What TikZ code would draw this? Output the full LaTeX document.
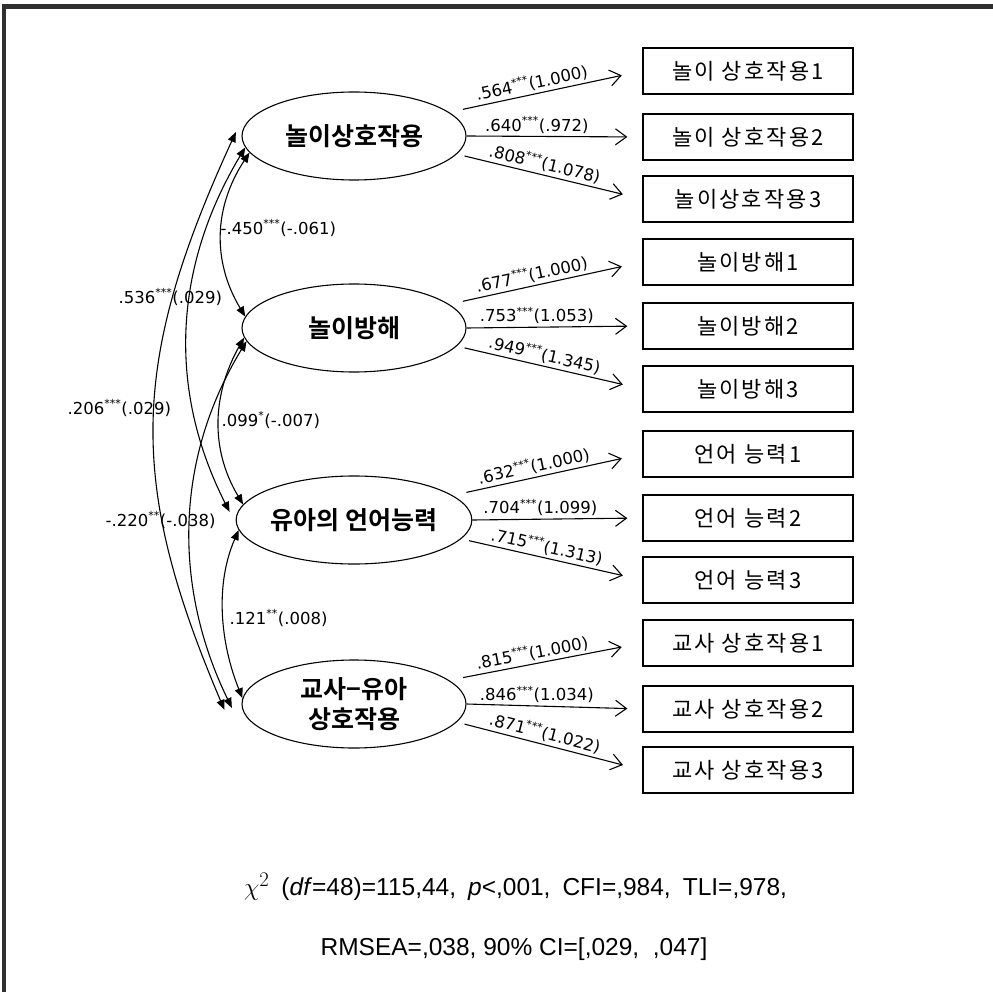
\documentclass[tikz,border=0pt]{standalone}
\usepackage{fontspec}
\setmainfont{Liberation Sans}
\newfontfamily\kr{Noto Sans CJK KR}
\newfontfamily\krb{Noto Sans CJK KR Bold}
\newfontfamily\dv{DejaVu Sans}
\usetikzlibrary{shapes.geometric,arrows.meta,calc}
\definecolor{frame}{HTML}{303030}
\newcommand{\sig}[1]{\textsuperscript{\fontsize{11}{11}\selectfont #1}}
\tikzset{
  lat/.style={ellipse, draw, line width=1.1pt, minimum width=224pt, minimum height=88pt,
    inner sep=0pt, align=center, font=\krb\fontsize{25}{30}\selectfont},
  obs/.style={rectangle, draw, line width=1.3pt, minimum width=210pt, minimum height=46pt,
    inner sep=0pt, font=\kr\fontsize{22}{26}\selectfont\addfontfeatures{LetterSpace=10}},
  load/.style={-{Straight Barb[length=11pt,width=16pt]}, line width=1.1pt},
  cov/.style={{Triangle[length=10pt,width=8pt]}-{Triangle[length=10pt,width=8pt]}, line width=1.1pt},
  lbl/.style={font=\dv\fontsize{16.5}{19}\selectfont, inner sep=1.5pt},
  fit/.style={font=\fontsize{24.5}{28}\selectfont, inner sep=0pt}
}
\begin{document}
\begin{tikzpicture}[x=1pt,y=-1pt]
\useasboundingbox (0,0) rectangle (993,992);
\draw[frame, line width=4.5pt] (4,995) -- (4,6.5) -- (996,6.5);

% latent variables
\node[lat] (e1) at (354,136) {놀이상호작용};
\node[lat] (e2) at (354,328) {놀이방해};
\node[lat] (e3) at (354,520) {유아의 언어능력};
\node[lat] (e4) at (354,704) {교사−유아\\상호작용};

% observed
\node[obs] (b1) at (748,71) {놀이 상호작용1};
\node[obs] (b2) at (748,137) {놀이 상호작용2};
\node[obs] (b3) at (748,199) {놀이상호작용3};
\node[obs] (b4) at (748,262) {놀이방해1};
\node[obs] (b5) at (748,326) {놀이방해2};
\node[obs] (b6) at (748,389) {놀이방해3};
\node[obs] (b7) at (748,454) {언어 능력1};
\node[obs] (b8) at (748,518) {언어 능력2};
\node[obs] (b9) at (748,580) {언어 능력3};
\node[obs] (b10) at (748,643) {교사 상호작용1};
\node[obs] (b11) at (748,709) {교사 상호작용2};
\node[obs] (b12) at (748,770) {교사 상호작용3};

% loadings
\draw[load, shorten <=14pt, shorten >=21pt] (e1.14) -- (b1.west) node[lbl, pos=0.44, sloped, above=1pt] {.564\sig{***}(1.000)};
\draw[load, shorten >=15pt] (e1.east) -- (b2.west) node[lbl, pos=0.4, above=1pt] {.640\sig{***}(.972)};
\draw[load, shorten <=8pt, shorten >=20pt] (e1.-10) -- (b3.west) node[lbl, pos=0.46, sloped, above=1pt] {.808\sig{***}(1.078)};

\draw[load, shorten <=14pt, shorten >=21pt] (e2.14) -- (b4.west) node[lbl, pos=0.44, sloped, above=1pt] {.677\sig{***}(1.000)};
\draw[load, shorten >=15pt] (e2.east) -- (b5.west) node[lbl, pos=0.4, above=1pt] {.753\sig{***}(1.053)};
\draw[load, shorten <=8pt, shorten >=20pt] (e2.-10) -- (b6.west) node[lbl, pos=0.46, sloped, above=1pt] {.949\sig{***}(1.345)};

\draw[load, shorten <=14pt, shorten >=21pt] (e3.14) -- (b7.west) node[lbl, pos=0.44, sloped, above=1pt] {.632\sig{***}(1.000)};
\draw[load, shorten >=15pt] (e3.east) -- (b8.west) node[lbl, pos=0.4, above=1pt] {.704\sig{***}(1.099)};
\draw[load, shorten <=8pt, shorten >=20pt] (e3.-10) -- (b9.west) node[lbl, pos=0.46, sloped, above=1pt] {.715\sig{***}(1.313)};

\draw[load, shorten <=14pt, shorten >=21pt] (e4.14) -- (b10.west) node[lbl, pos=0.44, sloped, above=1pt] {.815\sig{***}(1.000)};
\draw[load, shorten >=15pt] (e4.east) -- (b11.west) node[lbl, pos=0.4, above=1pt] {.846\sig{***}(1.034)};
\draw[load, shorten <=8pt, shorten >=20pt] (e4.-10) -- (b12.west) node[lbl, pos=0.46, sloped, above=1pt] {.871\sig{***}(1.022)};

% covariance end points
\coordinate (a14) at ([xshift=-6pt]e1.178);
\coordinate (z14) at ([xshift=-18pt]e4.183);
\coordinate (z13) at ([xshift=-8pt]e3.176);
\coordinate (z24) at ([xshift=-10pt]e4.182);

\draw[cov] (e1.189) .. controls ($(e1.189)+(-36,55)$) and ($(e2.174)+(-33,-55)$) .. (e2.174);
\draw[cov] (e2.185) .. controls ($(e2.185)+(-31,55)$) and ($(e3.172)+(-34,-57)$) .. (e3.172);
\draw[cov] (e3.185) .. controls ($(e3.185)+(-24,55)$) and ($(e4.177)+(-22,-55)$) .. (e4.177);
\draw[cov] (e1.186) .. controls ($(e1.186)+(-72,120)$) and ($(z13)+(-62,-122)$) .. (z13);
\draw[cov] (e2.187) .. controls ($(e2.187)+(-73,120)$) and ($(z24)+(-58,-119)$) .. (z24);
\draw[cov] (a14) .. controls ($(a14)+(-106,231)$) and ($(z14)+(-97,-228)$) .. (z14);

% covariance labels
\node[lbl, anchor=west] (l12) at (219,228) {-.450\sig{***}(-.061)};
\node[lbl, anchor=west] (l13) at (117,297) {.536\sig{***}(.029)};
\node[lbl, anchor=west] (l14) at (66,408) {.206\sig{***}(.029)};
\node[lbl, anchor=west] (l23) at (220,420) {.099\sig{*}(-.007)};
\node[lbl, anchor=west] (l24) at (104,520) {-.220\sig{**}(-.038)};
\node[lbl, anchor=west] (l34) at (228,618) {.121\sig{**}(.008)};

% fit indices
\node[fit, anchor=west] (fit1) at (244,887) {\spaceskip=12pt\relax{\fontsize{30}{30}\selectfont$\chi^2$} (\textit{df}=48)=115,44, \textit{p}<,001, CFI=,984, TLI=,978,};
\node[fit] (fit2) at (514,949) {RMSEA=,038, 90\% CI=[,029, \ ,047]};
\end{tikzpicture}
\end{document}
